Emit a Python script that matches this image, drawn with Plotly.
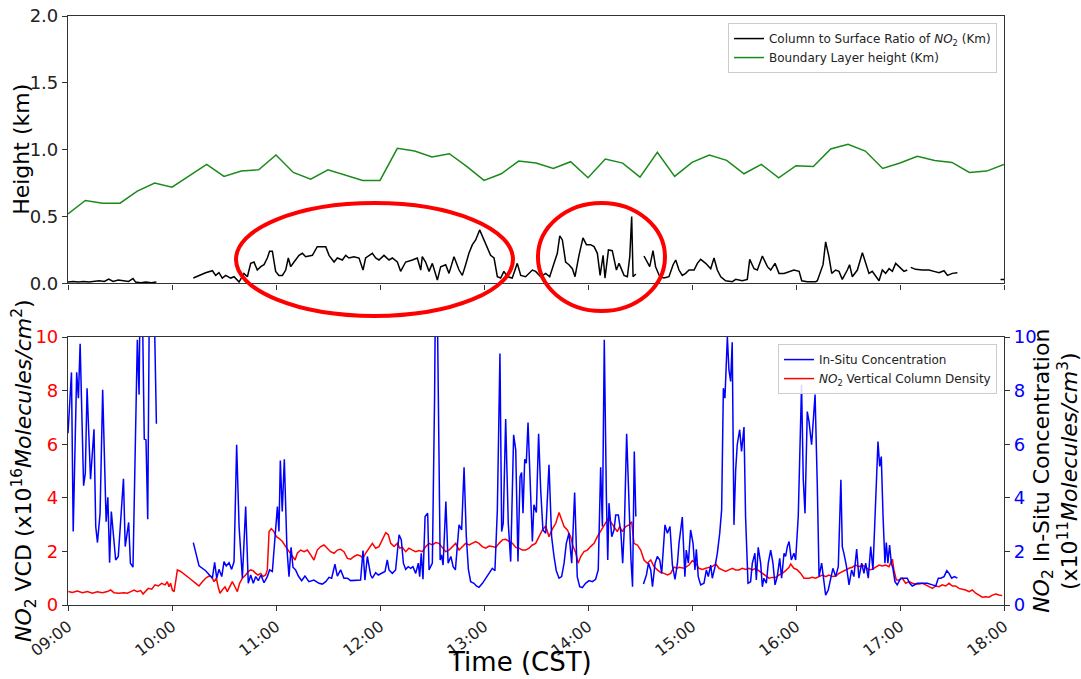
import plotly.graph_objects as go

# ---------------- data (time in minutes after 09:00 CST) ----------------
tick_minutes = [0, 60, 120, 180, 240, 300, 360, 420, 480, 540]
tick_labels = ["09:00", "10:00", "11:00", "12:00", "13:00", "14:00",
               "15:00", "16:00", "17:00", "18:00"]

# Boundary layer height (km), every 10 minutes
blh_minutes = [0, 10, 20, 30, 40, 50, 60, 70, 80, 90, 100, 110, 120, 130, 140, 150, 160, 170,
               180, 190, 200, 210, 220, 230, 240, 250, 260, 270, 280, 290, 300, 310, 320, 330,
               340, 350, 360, 370, 380, 390, 400, 410, 420, 430, 440, 450, 460, 470, 480, 490,
               500, 510, 520, 530, 540]
blh_km = [0.52, 0.62, 0.60, 0.60, 0.69, 0.75, 0.72, 0.805, 0.89, 0.80, 0.84, 0.85, 0.96, 0.83,
          0.78, 0.85, 0.81, 0.77, 0.77, 1.01, 0.99, 0.945, 0.97, 0.875, 0.77, 0.82, 0.915, 0.90,
          0.86, 0.91, 0.79, 0.93, 0.90, 0.795, 0.98, 0.80, 0.905, 0.96, 0.92, 0.82, 0.89, 0.79,
          0.88, 0.875, 1.005, 1.04, 0.99, 0.86, 0.90, 0.95, 0.92, 0.905, 0.83, 0.84, 0.89]

# Column to surface ratio of NO2 (km): (minute, value), None = gap
ratio_series = [
    (0, 0.01), (3, 0.015), (6, 0.01), (9, 0.015), (12, 0.01), (15, 0.015), (18, 0.02), (21, 0.015),
    (23.5, 0.033), (26, 0.015), (29, 0.025), (32, 0.02), (35, 0.015), (37.5, 0.037), (39, 0.01),
    (42, 0.005), (45, 0.01), (48, 0.005), (51, 0.01), (60, None),
    (72.3, 0.04), (75.6, 0.06), (79.4, 0.08), (83.3, 0.095), (85.2, 0.06), (87.1, 0.08), (89.0, 0.04),
    (91.0, 0.06), (93.8, 0.04), (95.8, 0.05), (98.7, 0.01), (101.5, 0.075), (103.5, 0.05),
    (105.4, 0.15), (107.3, 0.16), (109.2, 0.10), (111.2, 0.125), (113.1, 0.14), (115.0, 0.19),
    (116.3, 0.24), (117.9, 0.24), (119.8, 0.09), (121.7, 0.06), (123.7, 0.06), (125.6, 0.10),
    (127.1, 0.19), (128.5, 0.125), (130.4, 0.16), (133.3, 0.21), (135.2, 0.225), (137.1, 0.20),
    (141.0, 0.21), (143.8, 0.275), (148.7, 0.275), (150.6, 0.21), (153.5, 0.16), (155.4, 0.19),
    (158.3, 0.175), (160.2, 0.21), (162.1, 0.19), (165.0, 0.20), (167.9, 0.19), (170.2, 0.10),
    (171.7, 0.19), (173.6, 0.21), (175.6, 0.225), (177.5, 0.19), (179.4, 0.175), (182.3, 0.21),
    (185.2, 0.175), (187.1, 0.19), (190.0, 0.16), (191.9, 0.09), (194.8, 0.16), (198.7, 0.175),
    (201.5, 0.19), (203.5, 0.10), (204.4, 0.20), (206.3, 0.16), (208.3, 0.09), (210.2, 0.15),
    (213.1, 0.025), (215.0, 0.125), (217.9, 0.14), (219.8, 0.075), (222.7, 0.20), (225.6, 0.10),
    (227.5, 0.06), (229.4, 0.14), (231.3, 0.225), (233.3, 0.29), (235.2, 0.325), (237.5, 0.40),
    (240.0, 0.325), (241.9, 0.26), (243.8, 0.21), (245.8, 0.19), (247.7, 0.05), (249.6, 0.04),
    (251.5, 0.09), (253.5, 0.05), (256.3, 0.04), (259.2, 0.15), (261.2, 0.06), (264.0, 0.05),
    (267.9, 0.10), (269.8, 0.09), (272.7, 0.05), (275.6, 0.075), (277.9, 0.05), (280.4, 0.15),
    (282.3, 0.225), (283.7, 0.355), (285.2, 0.325), (287.1, 0.16), (289.0, 0.14), (291.0, 0.11),
    (292.5, 0.05), (294.8, 0.21), (297.1, 0.34), (299.1, 0.29), (301.5, 0.29), (303.5, 0.275),
    (305.4, 0.225), (307.0, 0.06), (308.7, 0.21), (309.8, 0.04), (311.8, 0.25), (314.0, 0.245),
    (316.4, 0.10), (317.9, 0.15), (320.8, 0.06), (322.7, 0.05), (324.1, 0.20), (325.2, 0.50),
    (326.0, 0.05), (327.6, 0.07), (330, None),
    (332.3, 0.205), (334.2, 0.16), (335.6, 0.125), (337.5, 0.245), (339.0, 0.125), (341.4, 0.05),
    (343.8, 0.04), (346.7, 0.05), (349.1, 0.14), (350.6, 0.175), (352.5, 0.10), (354.4, 0.06),
    (356.3, 0.075), (358.3, 0.10), (361.2, 0.10), (363.1, 0.15), (365.0, 0.18), (367.9, 0.15),
    (370.8, 0.11), (372.7, 0.19), (374.6, 0.10), (376.6, 0.05), (379.4, 0.02), (383.3, 0.0125),
    (385.2, 0.03), (389.0, 0.02), (391.9, 0.03), (393.3, 0.18), (395.8, 0.11), (397.7, 0.10),
    (400.6, 0.205), (403.5, 0.125), (405.4, 0.10), (407.9, 0.15), (410.2, 0.075), (413.1, 0.075),
    (416.0, 0.09), (418.8, 0.10), (421.8, 0.09), (423.3, 0.02), (426.5, 0.0125), (431.4, 0.0125),
    (432.3, 0.02), (434.2, 0.10), (435.6, 0.14), (437.1, 0.31), (439.0, 0.20), (440.6, 0.075),
    (442.9, 0.10), (444.8, 0.09), (446.7, 0.03), (449.6, 0.10), (450.9, 0.14), (452.5, 0.05),
    (455.4, 0.10), (458.3, 0.23), (460.2, 0.15), (462.1, 0.075), (464.0, 0.09), (466.0, 0.05),
    (467.9, 0.02), (469.8, 0.10), (471.7, 0.075), (473.7, 0.11), (475.6, 0.09), (477.5, 0.15),
    (480.4, 0.11), (482.3, 0.09), (484.2, 0.10), (485.2, None),
    (486.2, 0.12), (489.0, 0.105), (492.9, 0.10), (496.7, 0.10), (499.6, 0.09), (502.5, 0.08),
    (505.4, 0.095), (507.4, 0.06), (510.2, 0.075), (513.1, 0.08), (525, None),
    (538, 0.03), (540, 0.03),
]

# In-situ NO2 concentration (x1e11 molecules/cm3): (minute, value)
insitu_series = [
    (0, 6.41), (2, 8.68), (3, 2.74), (5, 8.68), (6, 7.72), (7, 9.75), (9, 4.45), (10, 4.92),
    (11, 8.09), (13, 4.69), (15, 6.56), (16, 2.93), (17, 2.33), (18.5, 3.42), (20, 8.03),
    (22, 3.11), (23, 4.02), (24, 1.58), (25, 3.49), (26, 2.80), (27.5, 1.68), (29, 1.81),
    (30, 2.74), (32, 4.71), (33, 2.18), (35, 3.08), (36, 1.56), (37.5, 1.41), (40, 9.9),
    (41, 7.85), (41.5, 11), (43, 10.8), (44, 6.19), (45, 6.16), (46, 3.2), (47, 12), (49.5, 12),
    (51, 6.76), (60, None),
    (72.3, 2.33), (75.6, 1.46), (79.4, 1.28), (83.3, 1.0), (84.6, 1.59), (85.8, 1.0), (87.1, 1.33),
    (88.7, 1.06), (90.0, 1.62), (91.3, 1.46), (92.9, 1.58), (94.4, 1.33), (95.8, 1.62),
    (97.3, 5.98), (98.7, 2.93), (100.6, 1.0), (102.5, 3.67), (104.0, 0.81), (105.4, 1.12),
    (106.9, 0.81), (108.3, 1.06), (109.8, 0.91), (111.3, 1.12), (113.1, 0.83), (115.0, 1.06),
    (116.3, 1.31), (117.9, 1.25), (119.4, 2.49), (120.8, 3.67), (121.7, 2.74), (122.5, 5.39),
    (123.6, 3.49), (124.8, 5.44), (126.3, 2.12), (127.5, 1.06), (128.7, 2.15), (129.8, 1.41),
    (131.3, 1.31), (132.9, 1.08), (134.8, 0.91), (136.7, 1.08), (139.0, 0.87), (141.9, 0.93),
    (144.8, 0.81), (146.7, 0.78), (148.7, 0.87), (150.6, 1.03), (152.1, 1.0), (154.0, 1.52),
    (155.4, 1.08), (157.3, 1.31), (159.2, 1.0), (161.2, 1.0), (163.1, 0.91), (166.0, 0.91),
    (168.8, 0.93), (170.2, 2.03), (171.3, 0.93), (172.7, 1.81), (174.6, 1.12), (175.6, 1.0),
    (177.5, 1.21), (179.0, 1.12), (181.0, 1.18), (182.9, 1.25), (184.2, 1.68), (185.2, 1.31),
    (187.1, 1.18), (189.0, 1.31), (191.0, 2.62), (192.3, 2.43), (193.5, 1.56), (194.8, 1.33),
    (196.3, 1.43), (197.7, 1.37), (199.0, 1.43), (200.6, 1.18), (202.1, 1.56), (202.9, 1.06),
    (203.8, 1.93), (204.8, 0.96), (206.0, 3.30), (207.5, 3.42), (208.3, 1.31), (210.2, 1.56),
    (211.5, 7.8), (211.9, 11), (213.1, 11), (213.9, 5.3), (214.7, 1.68), (215.5, 1.87),
    (216.4, 1.49), (218.0, 3.86), (219.3, 1.56), (220.9, 1.81), (222.2, 1.43), (223.5, 1.31),
    (225.6, 2.99), (227.1, 2.80), (228.5, 5.14), (229.8, 2.55), (231.0, 1.33), (232.3, 0.87),
    (234.2, 0.81), (235.6, 0.71), (237.1, 0.66), (239.1, 0.81), (241.0, 1.0), (242.9, 1.18),
    (244.8, 1.37), (246.3, 1.28), (247.7, 3.55), (249.2, 9.38), (250.2, 2.74), (251.1, 3.05),
    (252.5, 6.94), (254.0, 3.05), (255.4, 1.62), (257.1, 6.35), (258.3, 5.79), (259.6, 1.62),
    (260.8, 4.79), (261.7, 4.94), (262.5, 3.42), (263.5, 5.44), (264.4, 5.29), (265.4, 6.81),
    (266.7, 4.42), (267.9, 2.37), (268.8, 3.74), (270.2, 3.45), (271.5, 6.39), (272.7, 4.30),
    (274.0, 2.80), (275.6, 2.68), (277.5, 5.23), (279.0, 2.55), (280.4, 1.81), (281.7, 1.28),
    (283.3, 1.0), (284.8, 1.06), (286.2, 1.56), (287.5, 2.30), (289.0, 2.68), (290.6, 1.56),
    (292.3, 4.20), (293.8, 1.06), (295.2, 0.68), (296.7, 0.65), (298.6, 0.81), (300.6, 0.91),
    (302.5, 0.87), (304.4, 0.96), (305.9, 1.31), (307.3, 5.14), (308.3, 2.93), (309.4, 9.9),
    (310.6, 4.05), (311.4, 1.68), (312.1, 3.80), (313.7, 2.55), (315.0, 2.80), (316.0, 3.36),
    (317.5, 3.36), (319.0, 2.68), (320.0, 1.56), (321.0, 2.93), (322.3, 6.39), (323.5, 4.05),
    (324.8, 1.68), (325.7, 0.68), (326.7, 5.73), (327.6, 3.30), (330, None),
    (332.0, 0.78), (333.7, 1.12), (334.9, 1.56), (336.2, 1.31), (337.2, 0.68), (338.7, 1.56),
    (340.0, 1.81), (341.4, 1.68), (342.5, 1.18), (344.4, 2.99), (345.8, 2.68), (347.3, 2.93),
    (348.7, 1.49), (350.2, 0.96), (351.6, 1.56), (352.5, 2.30), (354.4, 3.28), (355.9, 1.06),
    (356.7, 2.05), (357.9, 1.56), (359.2, 2.80), (360.6, 2.30), (361.7, 1.31), (362.5, 2.08),
    (363.6, 1.06), (365.0, 0.75), (366.9, 0.81), (368.3, 1.31), (369.4, 1.06), (370.8, 1.49),
    (371.7, 1.0), (373.3, 1.43), (374.6, 1.93), (376.0, 2.68), (377.1, 3.55), (378.1, 8.09),
    (379.0, 7.72), (380.4, 10.0), (381.3, 8.78), (382.3, 8.34), (383.2, 9.80), (384.2, 2.99),
    (385.2, 5.04), (386.1, 5.98), (387.5, 6.54), (388.6, 5.73), (390.0, 6.64), (390.9, 3.30),
    (392.3, 0.81), (393.8, 0.87), (394.8, 1.56), (396.3, 1.93), (397.1, 0.93), (398.2, 2.15),
    (399.6, 1.56), (400.6, 0.68), (401.5, 1.0), (402.9, 0.81), (404.0, 1.56), (405.4, 2.05),
    (406.7, 1.56), (407.9, 0.75), (409.2, 1.06), (410.6, 1.74), (411.7, 1.0), (413.1, 1.93),
    (414.0, 1.81), (415.0, 2.18), (416.0, 2.37), (417.3, 1.68), (418.8, 1.93), (419.8, 1.68),
    (421.3, 3.30), (422.3, 6.10), (423.2, 8.22), (424.2, 4.67), (425.2, 3.42), (426.5, 7.22),
    (427.5, 6.85), (429.0, 5.98), (431.0, 7.85), (432.3, 4.42), (433.3, 1.06), (434.8, 1.56),
    (436.1, 0.81), (437.1, 0.37), (438.6, 0.56), (440.0, 1.0), (441.3, 1.37), (442.9, 1.06),
    (444.4, 1.43), (445.9, 4.67), (446.7, 2.18), (447.7, 1.91), (449.0, 1.49), (450.6, 0.75),
    (452.1, 1.31), (453.4, 1.06), (455.0, 2.09), (456.3, 1.0), (457.9, 1.56), (459.2, 1.18),
    (460.2, 1.56), (461.7, 1.0), (463.1, 2.18), (464.4, 1.31), (465.4, 3.05), (466.3, 4.23),
    (467.3, 6.10), (468.3, 5.17), (469.2, 5.54), (470.2, 3.36), (471.3, 1.56), (472.1, 2.33),
    (473.0, 1.56), (474.0, 2.24), (475.0, 1.56), (475.9, 1.37), (477.1, 0.87), (478.4, 0.75),
    (480.4, 1.0), (482.3, 1.0), (484.2, 1.0), (485.6, 0.81), (487.1, 0.71), (490.0, 0.81),
    (492.9, 0.81), (495.8, 0.81), (498.7, 0.75), (500.6, 0.71), (502.1, 1.0), (503.5, 1.0),
    (505.4, 1.06), (507.0, 1.28), (508.3, 1.18), (509.8, 1.0), (511.4, 1.06), (513.1, 1.0),
]

# NO2 vertical column density (x1e16 molecules/cm2): (minute, value)
vcd_series = [
    (0.2, 0.50), (2.5, 0.47), (5.4, 0.52), (8.3, 0.46), (11.2, 0.50), (14.0, 0.44), (16.9, 0.49),
    (19.8, 0.46), (22.7, 0.50), (24.6, 0.56), (26.5, 0.46), (29.4, 0.44), (32.3, 0.46),
    (34.2, 0.44), (36.2, 0.50), (38.1, 0.56), (40.0, 0.50), (41.9, 0.54), (43.3, 0.41),
    (44.8, 0.50), (46.3, 0.62), (48.3, 0.59), (50.2, 0.75), (52.1, 0.71), (54.0, 0.81),
    (56.0, 0.75), (57.3, 0.87), (58.3, 0.68), (59.2, 0.81), (60.2, 0.56), (61.2, 0.50),
    (62.1, 0.87), (63.1, 1.31), (65.0, 1.25), (67.9, 1.12), (70.8, 0.96), (73.7, 0.81),
    (75.6, 0.71), (77.5, 0.87), (79.4, 1.0), (81.3, 1.08), (82.9, 1.06), (84.2, 0.87),
    (85.6, 1.0), (86.7, 0.66), (87.7, 0.44), (89.0, 0.56), (90.6, 0.68), (91.9, 0.50),
    (93.3, 0.68), (94.8, 0.87), (96.3, 0.68), (97.7, 0.50), (99.0, 0.81), (100.6, 1.0),
    (102.5, 1.12), (104.0, 1.25), (105.4, 1.31), (106.7, 1.28), (108.3, 1.18), (109.6, 1.12),
    (111.2, 1.18), (112.5, 1.06), (114.0, 1.12), (115.0, 1.31), (116.0, 2.74), (117.3, 2.85),
    (118.8, 2.74), (120.2, 2.55), (121.7, 2.49), (123.7, 2.37), (125.6, 2.18), (127.5, 1.99),
    (129.4, 1.83), (131.0, 1.68), (132.3, 1.93), (134.2, 2.05), (136.2, 1.99), (138.1, 2.05),
    (140.0, 1.87), (141.9, 1.68), (143.8, 2.05), (145.8, 2.18), (147.7, 2.24), (149.6, 2.12),
    (151.5, 1.99), (153.5, 1.93), (155.4, 2.05), (157.3, 2.08), (159.2, 1.99), (161.2, 1.74),
    (163.1, 1.71), (165.0, 1.81), (166.9, 1.87), (168.8, 1.83), (170.2, 1.74), (171.7, 1.93),
    (173.6, 2.12), (175.6, 2.30), (177.5, 2.12), (179.4, 2.18), (181.3, 2.43), (183.3, 2.70),
    (184.8, 2.62), (186.2, 2.30), (188.1, 2.18), (190.0, 2.30), (191.4, 2.12), (192.9, 2.15),
    (194.8, 1.99), (196.7, 2.12), (198.7, 2.05), (200.6, 1.99), (202.5, 2.03), (204.4, 1.99),
    (206.4, 2.18), (208.3, 2.30), (210.2, 2.24), (212.1, 2.33), (214.0, 2.30), (216.0, 2.12),
    (217.9, 1.99), (219.8, 2.05), (221.7, 2.18), (223.7, 2.30), (225.6, 2.05), (227.5, 2.18),
    (229.4, 2.30), (231.4, 2.24), (233.3, 2.30), (235.2, 2.37), (237.1, 2.30), (239.0, 2.18),
    (241.0, 2.12), (242.9, 2.20), (244.8, 2.18), (246.7, 2.15), (248.7, 2.30), (250.6, 2.43),
    (252.5, 2.45), (254.4, 2.37), (256.4, 2.30), (258.3, 2.15), (260.2, 2.12), (262.1, 2.05),
    (264.1, 2.05), (266.0, 2.12), (267.9, 2.24), (269.8, 2.30), (271.8, 2.55), (273.7, 2.80),
    (275.6, 2.95), (277.5, 2.55), (279.4, 2.83), (281.4, 3.05), (283.3, 3.45), (284.2, 3.30),
    (286.2, 2.93), (288.1, 2.80), (290.0, 2.55), (291.4, 2.18), (292.9, 1.96), (294.3, 1.56),
    (295.8, 1.81), (297.7, 1.99), (299.6, 2.05), (301.5, 2.18), (303.5, 2.30), (305.4, 2.55),
    (307.3, 2.74), (309.2, 2.93), (310.6, 3.11), (311.7, 3.24), (313.1, 3.11), (315.0, 2.93),
    (316.9, 2.74), (318.3, 2.93), (319.8, 2.74), (321.7, 2.93), (323.7, 2.99), (325.2, 3.11),
    (326.5, 2.30), (328.5, 2.24), (330.4, 2.05), (332.3, 1.68), (334.2, 1.56), (336.2, 1.68),
    (338.1, 1.43), (340.0, 1.31), (342.0, 1.21), (343.9, 1.18), (345.8, 1.12), (347.7, 1.18),
    (349.6, 1.41), (351.6, 1.37), (352.5, 1.41), (355.4, 1.37), (358.3, 1.49), (360.2, 1.66),
    (362.1, 1.56), (364.0, 1.37), (366.0, 1.33), (367.9, 1.37), (369.8, 1.41), (371.7, 1.43),
    (373.7, 1.53), (375.6, 1.37), (377.5, 1.31), (379.4, 1.25), (381.3, 1.31), (383.3, 1.37),
    (385.2, 1.31), (387.1, 1.31), (389.0, 1.37), (391.0, 1.33), (392.9, 1.37), (394.8, 1.31),
    (396.7, 1.37), (398.7, 1.28), (400.6, 1.18), (402.5, 1.08), (404.4, 1.0), (406.3, 1.03),
    (408.3, 1.03), (410.2, 1.12), (412.1, 1.18), (414.0, 1.28), (416.0, 1.41), (416.9, 1.53),
    (418.8, 1.37), (420.8, 1.31), (422.7, 1.18), (424.6, 1.0), (427.5, 1.0), (429.4, 1.03),
    (431.3, 1.0), (433.3, 1.06), (435.2, 1.12), (437.1, 1.06), (439.0, 1.12), (441.0, 1.06),
    (442.9, 1.08), (444.8, 1.18), (446.7, 1.25), (448.7, 1.31), (450.6, 1.37), (452.5, 1.41),
    (454.4, 1.49), (456.3, 1.43), (458.3, 1.49), (460.2, 1.41), (462.1, 1.31), (464.0, 1.33),
    (466.0, 1.41), (467.9, 1.49), (469.8, 1.46), (471.7, 1.49), (473.7, 1.43), (475.6, 1.71),
    (476.5, 1.31), (477.9, 0.93), (479.4, 0.93), (481.3, 1.0), (483.3, 0.81), (485.2, 0.87),
    (487.1, 0.81), (489.0, 0.78), (491.0, 0.78), (492.9, 0.81), (494.8, 0.75), (496.7, 0.68),
    (498.7, 0.62), (500.6, 0.71), (502.5, 0.68), (504.4, 0.75), (506.3, 0.71), (508.3, 0.81),
    (510.2, 0.71), (512.1, 0.71), (514.0, 0.62), (516.0, 0.59), (517.9, 0.56), (519.8, 0.50),
    (521.7, 0.56), (523.7, 0.44), (525.6, 0.37), (527.5, 0.29), (529.4, 0.31), (531.3, 0.29),
    (533.3, 0.37), (535.2, 0.41), (537.1, 0.37), (539.0, 0.35),
]

ratio_t, ratio_v = zip(*ratio_series)
insitu_t, insitu_v = zip(*insitu_series)
vcd_t, vcd_v = zip(*vcd_series)

FONT = "DejaVu Sans"
AXC = "#333333"

fig = go.Figure()
fig.add_trace(go.Scatter(x=ratio_t, y=ratio_v, mode="lines", xaxis="x", yaxis="y",
                         line=dict(color="black", width=1.5), legend="legend",
                         name="Column to Surface Ratio of <i>NO</i><sub>2</sub> (Km)"))
fig.add_trace(go.Scatter(x=blh_minutes, y=blh_km, mode="lines", xaxis="x", yaxis="y",
                         line=dict(color="#1a8a1a", width=1.5), legend="legend",
                         name="Boundary Layer height (Km)"))
fig.add_trace(go.Scatter(x=vcd_t, y=vcd_v, mode="lines", xaxis="x2", yaxis="y2",
                         line=dict(color="#ff0000", width=1.5), legend="legend2", legendrank=2,
                         name="<i>NO</i><sub>2</sub> Vertical Column Density"))
fig.add_trace(go.Scatter(x=insitu_t, y=insitu_v, mode="lines", xaxis="x2", yaxis="y3",
                         line=dict(color="#0000ff", width=1.5), legend="legend2", legendrank=1,
                         name="In-Situ Concentration"))

common_axis = dict(showline=True, linecolor=AXC, linewidth=1.2, mirror=True, ticks="outside",
                   ticklen=5, tickcolor=AXC, showgrid=False, zeroline=False, automargin=False)

legend_style = dict(bgcolor="rgba(255,255,255,0.85)", bordercolor="#cccccc", borderwidth=1,
                    font=dict(family=FONT, size=12, color="#222"), xanchor="right",
                    yanchor="top", tracegroupgap=0)

fig.update_layout(
    width=1081, height=679, template="none",
    margin=dict(l=68, r=77, t=16, b=74),
    paper_bgcolor="white", plot_bgcolor="white",
    font=dict(family=FONT, size=18, color="black"),
    xaxis=dict(domain=[0, 1], anchor="y", range=[0, 540], tickvals=tick_minutes,
               showticklabels=False, **common_axis),
    yaxis=dict(domain=[0.546, 1], anchor="x", range=[0, 2], tickvals=[0, 0.5, 1.0, 1.5, 2.0],
               tickformat=".1f", tickfont=dict(size=18, color="#222"), **common_axis),
    xaxis2=dict(domain=[0, 1], anchor="y2", range=[0, 540], tickvals=tick_minutes,
                ticktext=tick_labels, tickangle=-38, tickfont=dict(size=16, color="#222"),
                **common_axis),
    yaxis2=dict(domain=[0, 0.455], anchor="x2", range=[0, 10], tickvals=[0, 2, 4, 6, 8, 10],
                tickfont=dict(size=18, color="#ff0000"), **common_axis),
    yaxis3=dict(overlaying="y2", anchor="x2", side="right", range=[0, 10],
                tickvals=[0, 2, 4, 6, 8, 10], tickfont=dict(size=18, color="#0000ff"),
                showline=True, linecolor=AXC, linewidth=1.2, ticks="outside", ticklen=5,
                tickcolor=AXC, showgrid=False, zeroline=False, automargin=False),
    legend=dict(x=0.9925, y=0.988, **legend_style),
    legend2=dict(x=0.9925, y=0.443, **legend_style),
    showlegend=True,
)

# red highlight ellipses
fig.add_shape(type="circle", xref="paper", yref="paper", x0=0.1795, x1=0.4754, y0=0.4907,
              y1=0.6825, line=dict(color="#ff0000", width=4), layer="above")
fig.add_shape(type="circle", xref="paper", yref="paper", x0=0.5021, x1=0.6378, y0=0.4992,
              y1=0.6825, line=dict(color="#ff0000", width=4), layer="above")

# axis titles
title_font = dict(family=FONT, size=22, color="black")
fig.add_annotation(text="Height (km)", xref="paper", yref="paper", x=-0.049, y=0.773,
                   textangle=-90, showarrow=False, xanchor="center", yanchor="middle",
                   font=title_font)
fig.add_annotation(text="<i>NO</i><sub>2</sub> VCD (x10<sup>16</sup><i>Molecules/cm</i><sup>2</sup>)",
                   xref="paper", yref="paper", x=-0.047, y=0.2275, textangle=-90,
                   showarrow=False, xanchor="center", yanchor="middle", font=title_font)
fig.add_annotation(text="<i>NO</i><sub>2</sub> In-Situ Concentration",
                   xref="paper", yref="paper", x=1.0415, y=0.2275, textangle=-90,
                   showarrow=False, xanchor="center", yanchor="middle", font=title_font)
fig.add_annotation(text="(x10<sup>11</sup><i>Molecules/cm</i><sup>3</sup>)",
                   xref="paper", yref="paper", x=1.0685, y=0.2275, textangle=-90,
                   showarrow=False, xanchor="center", yanchor="middle", font=title_font)
fig.add_annotation(text="Time (CST)", xref="paper", yref="paper", x=0.483, y=-0.097,
                   showarrow=False, xanchor="center", yanchor="middle",
                   font=dict(family=FONT, size=26, color="black"))

fig.write_html("out.html")
